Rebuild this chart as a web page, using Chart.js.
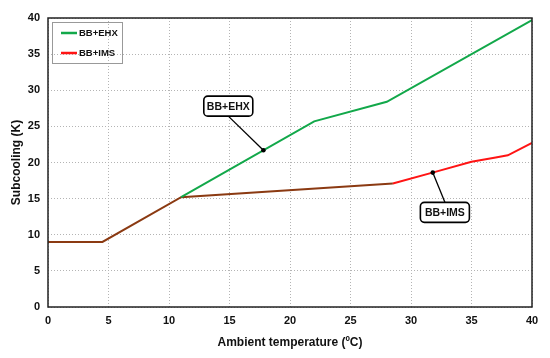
<!DOCTYPE html>
<html>
<head>
<meta charset="utf-8">
<script src="https://cdn.jsdelivr.net/npm/chart.js@4"></script>
<style>
  html, body { margin: 0; padding: 0; background: #fff; }
  #wrap { width: 550px; height: 358px; }
</style>
</head>
<body>
<div id="wrap"><canvas id="chart" width="550" height="358"></canvas></div>
<script>
// Data
const tempEHX = [11, 22, 28, 40];
const subEHX = [15.2, 25.7, 28.4, 39.7];
const tempIMS = [0, 4.5, 11, 28.5, 32, 35, 37, 38, 40];
const subIMS = [9, 9, 15.2, 17.1, 18.7, 20.1, 20.7, 21, 22.7];
const seriesNames = ['BB+EHX', 'BB+IMS'];
const xTicks = [0, 5, 10, 15, 20, 25, 30, 35, 40];
const yTicks = [0, 5, 10, 15, 20, 25, 30, 35, 40];
const sharedUntil = 28.5; // IMS drawn brown up to here

// Callouts: anchor on the curve, label centre (data units)
const callouts = [
    { text: 'BB+EHX', at: [17.8, 21.7], label: [14.9, 27.8] },
    { text: 'BB+IMS', at: [31.8, 18.6], label: [32.8, 13.1] }
];

const GREEN = '#12a84a';
const RED = '#ff1414';
const BROWN = '#8b3a12';
const FONT = '"Liberation Sans", Arial, sans-serif';

const toPoints = (xs, ys) => xs.map((x, i) => ({ x: x, y: ys[i] }));

function roundRect(ctx, x, y, w, h, r) {
    ctx.beginPath();
    ctx.moveTo(x + r, y);
    ctx.arcTo(x + w, y, x + w, y + h, r);
    ctx.arcTo(x + w, y + h, x, y + h, r);
    ctx.arcTo(x, y + h, x, y, r);
    ctx.arcTo(x, y, x + w, y, r);
    ctx.closePath();
}

// Frame, legend and callouts
const decorations = {
    id: 'decorations',
    afterDatasetsDraw(chart) {
        const { ctx, chartArea: a, scales: { x, y } } = chart;
        ctx.save();

        // plot frame
        ctx.strokeStyle = '#222';
        ctx.lineWidth = 1.5;
        ctx.strokeRect(a.left, a.top, a.right - a.left, a.bottom - a.top);

        // legend box
        ctx.strokeStyle = '#999';
        ctx.lineWidth = 1;
        ctx.strokeRect(52.5, 22.5, 70, 41);
        ctx.font = 'bold 9.5px ' + FONT;
        ctx.textBaseline = 'middle';
        ctx.fillStyle = '#111';
        [GREEN, RED].forEach((c, i) => {
            const ly = 33 + i * 20;
            ctx.strokeStyle = c;
            ctx.lineWidth = 2.5;
            ctx.beginPath();
            ctx.moveTo(61, ly);
            ctx.lineTo(77, ly);
            ctx.stroke();
            ctx.fillText(seriesNames[i], 79, ly);
        });

        // callouts
        ctx.font = 'bold 10.5px ' + FONT;
        ctx.textAlign = 'center';
        callouts.forEach(c => {
            const px = x.getPixelForValue(c.at[0]);
            const py = y.getPixelForValue(c.at[1]);
            const lx = x.getPixelForValue(c.label[0]);
            const ly = y.getPixelForValue(c.label[1]);
            const w = 49, h = 20;
            const edgeY = py < ly ? ly - h / 2 : ly + h / 2;
            ctx.strokeStyle = '#000';
            ctx.lineWidth = 1.3;
            ctx.beginPath();
            ctx.moveTo(px, py);
            ctx.lineTo(lx, edgeY);
            ctx.stroke();
            ctx.fillStyle = '#000';
            ctx.beginPath();
            ctx.arc(px, py, 2.3, 0, Math.PI * 2);
            ctx.fill();
            roundRect(ctx, lx - w / 2, ly - h / 2, w, h, 4);
            ctx.fillStyle = '#fff';
            ctx.fill();
            ctx.lineWidth = 1.6;
            ctx.stroke();
            ctx.fillStyle = '#111';
            ctx.fillText(c.text, lx, ly + 1);
        });
        ctx.restore();
    }
};

const ctx = document.getElementById('chart').getContext('2d');
new Chart(ctx, {
    type: 'line',
    data: {
        datasets: [{
            label: seriesNames[0],
            data: toPoints(tempEHX, subEHX),
            borderColor: GREEN,
            borderWidth: 2,
            pointRadius: 0,
            tension: 0
        }, {
            label: seriesNames[1],
            data: toPoints(tempIMS, subIMS),
            borderColor: RED,
            borderWidth: 2,
            pointRadius: 0,
            tension: 0,
            segment: {
                borderColor: c => c.p1.parsed.x <= sharedUntil ? BROWN : RED
            }
        }]
    },
    options: {
        responsive: false,
        animation: false,
        layout: { padding: { top: 18, right: 18, left: 0, bottom: 0 } },
        plugins: {
            legend: { display: false },
            tooltip: { enabled: false }
        },
        scales: {
            x: {
                type: 'linear',
                min: 0,
                max: 40,
                afterBuildTicks: s => { s.ticks = xTicks.map(v => ({ value: v })); },
                afterFit: s => { s.height = 51; },
                grid: { color: '#b4b4b4', lineWidth: 1, drawTicks: false },
                border: { display: false, dash: [1, 2] },
                ticks: { color: '#111', padding: 7, font: { family: FONT, size: 11, weight: 'bold' } },
                title: {
                    display: true,
                    text: 'Ambient temperature (ºC)',
                    color: '#111',
                    padding: { top: 0, bottom: 8 },
                    font: { family: FONT, size: 12, weight: 'bold' }
                }
            },
            y: {
                min: 0,
                max: 40,
                afterBuildTicks: s => { s.ticks = yTicks.map(v => ({ value: v })); },
                afterFit: s => { s.width = 48; },
                grid: { color: '#b4b4b4', lineWidth: 1, drawTicks: false },
                border: { display: false, dash: [1, 2] },
                ticks: { color: '#111', padding: 8, font: { family: FONT, size: 11, weight: 'bold' } },
                title: {
                    display: true,
                    text: 'Subcooling (K)',
                    color: '#111',
                    padding: { top: 9, bottom: 9 },
                    font: { family: FONT, size: 12, weight: 'bold' }
                }
            }
        }
    },
    plugins: [decorations]
});
</script>
</body>
</html>
